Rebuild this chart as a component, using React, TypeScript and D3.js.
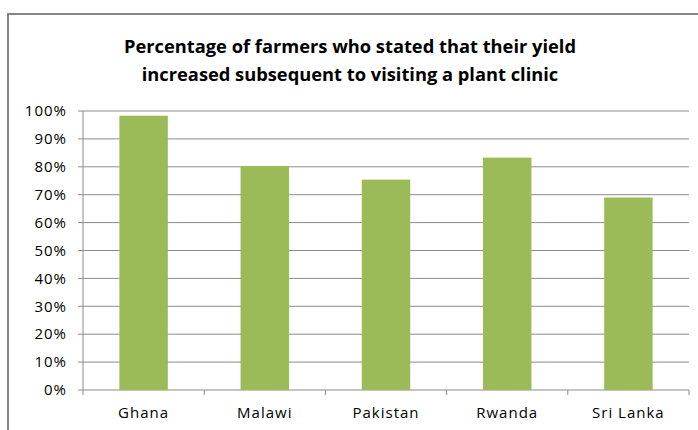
import React from 'react';
import * as d3 from 'd3';

const countries = ['Ghana', 'Malawi', 'Pakistan', 'Rwanda', 'Sri Lanka'];
const yieldIncreased = [0.983, 0.803, 0.754, 0.833, 0.69];
const yTicks = [0, 0.1, 0.2, 0.3, 0.4, 0.5, 0.6, 0.7, 0.8, 0.9, 1];
const titleLines = [
  'Percentage of farmers who stated that their yield',
  'increased subsequent to visiting a plant clinic',
];

const W = 698;
const H = 430;
const plot = { left: 83, right: 689, top: 111, bottom: 390 };
const font = "'Open Sans', sans-serif";

const App: React.FC = () => {
  const x = d3.scaleBand<string>().domain(countries).range([plot.left, plot.right]).padding(0);
  const y = d3.scaleLinear().domain([0, 1]).range([plot.bottom, plot.top]);
  const barW = x.bandwidth() * 0.4;
  const fmt = d3.format('.0%');

  return (
    <svg width={W} height={H} style={{ position: 'absolute', left: 0, top: 0, background: '#fff' }}>
      {/* chart border */}
      <rect x={8} y={14} width={W} height={H} fill="#fff" stroke="#868686" strokeWidth={2} />

      {titleLines.map((t, i) => (
        <text key={i} x={350} y={53 + i * 28} textAnchor="middle" fontFamily={font}
          fontWeight="bold" fontSize={18.3} fill="#000">{t}</text>
      ))}

      {/* gridlines */}
      {yTicks.map(t => (
        <line key={t} x1={plot.left - 5} x2={plot.right} y1={y(t)} y2={y(t)}
          stroke="#8c8c8c" strokeWidth={1} />
      ))}
      {yTicks.map(t => (
        <text key={'l' + t} x={plot.left - 16} y={y(t)} dy="0.35em" textAnchor="end"
          fontFamily={font} fontSize={15} letterSpacing={1} fill="#000">{fmt(t)}</text>
      ))}

      {/* axes */}
      <line x1={plot.left} x2={plot.left} y1={plot.top} y2={plot.bottom} stroke="#8c8c8c" />
      {countries.map(c => (
        <line key={'t' + c} x1={x(c)!} x2={x(c)!} y1={plot.bottom} y2={plot.bottom + 5} stroke="#8c8c8c" />
      ))}
      <line x1={plot.right} x2={plot.right} y1={plot.bottom} y2={plot.bottom + 5} stroke="#8c8c8c" />

      {countries.map((c, i) => (
        <rect key={c} x={x(c)! + (x.bandwidth() - barW) / 2} y={y(yieldIncreased[i])}
          width={barW} height={plot.bottom - y(yieldIncreased[i])} fill="#9bbb59" />
      ))}

      {countries.map(c => (
        <text key={'c' + c} x={x(c)! + x.bandwidth() / 2} y={413} dy="0.35em" textAnchor="middle"
          fontFamily={font} fontSize={15} letterSpacing={1} fill="#000">{c}</text>
      ))}
    </svg>
  );
};

export default App;
